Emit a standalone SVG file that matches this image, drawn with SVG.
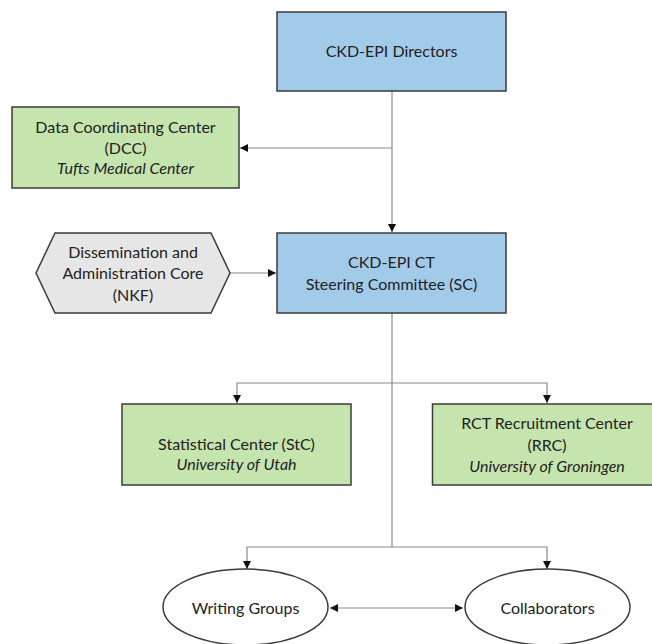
<svg xmlns="http://www.w3.org/2000/svg" width="652" height="644" viewBox="0 0 652 644">
<defs>
<style>
.box{stroke:#3b3b3b;stroke-width:1.5}
.blue{fill:#a2cbea}
.green{fill:#c6e5ae}
.gray{fill:#e7e6e6}
.white{fill:#ffffff}
.t{font-family:Lato,"Liberation Sans",sans-serif;font-size:16px;fill:#222222;text-anchor:middle}
.i{font-style:italic}
.c{fill:none;stroke:#8a8a8a;stroke-width:1.2}
</style>
<marker id="ah" markerUnits="userSpaceOnUse" markerWidth="9" markerHeight="8" refX="8" refY="4" orient="auto-start-reverse">
<path d="M0,0 L8,4 L0,8 Z" fill="#111"/>
</marker>
</defs>
<g id="connectors">
<path class="c" d="M392,91 V232" marker-end="url(#ah)"/>
<path class="c" d="M392,148 H240" marker-end="url(#ah)"/>
<path class="c" d="M230,273 H276" marker-end="url(#ah)"/>
<path class="c" d="M392,313 V547"/>
<path class="c" d="M392,383 H237 V403" marker-end="url(#ah)"/>
<path class="c" d="M392,383 H547 V403" marker-end="url(#ah)"/>
<path class="c" d="M392,547 H247 V569" marker-end="url(#ah)"/>
<path class="c" d="M392,547 H547 V569" marker-end="url(#ah)"/>
<path class="c" d="M330,608 H463" marker-start="url(#ah)" marker-end="url(#ah)"/>
</g>
<g id="directors">
<rect class="box blue" x="277" y="12" width="229" height="79"/>
<text class="t" x="391.5" y="57">CKD-EPI Directors</text>
</g>
<g id="dcc">
<rect class="box green" x="12" y="107" width="227" height="81"/>
<text class="t" x="125.5" y="133">Data Coordinating Center</text>
<text class="t" x="125.5" y="154">(DCC)</text>
<text class="t i" x="125.5" y="174">Tufts Medical Center</text>
</g>
<g id="dac">
<polygon class="box gray" points="36,273 55,233 211,233 230,273 211,313 55,313"/>
<text class="t" x="133" y="258">Dissemination and</text>
<text class="t" x="133" y="279">Administration Core</text>
<text class="t" x="133" y="301">(NKF)</text>
</g>
<g id="sc">
<rect class="box blue" x="277" y="233" width="229" height="80"/>
<text class="t" x="391.5" y="268">CKD-EPI CT</text>
<text class="t" x="391.5" y="290">Steering Committee (SC)</text>
</g>
<g id="stc">
<rect class="box green" x="122" y="404" width="229" height="81"/>
<text class="t" x="236.5" y="450">Statistical Center (StC)</text>
<text class="t i" x="236.5" y="470">University of Utah</text>
</g>
<g id="rrc">
<rect class="box green" x="432.5" y="404" width="229" height="81"/>
<text class="t" x="547" y="429">RCT Recruitment Center</text>
<text class="t" x="547" y="451">(RRC)</text>
<text class="t i" x="547" y="472">University of Groningen</text>
</g>
<g id="writing">
<ellipse class="box white" cx="245.5" cy="607" rx="82.5" ry="38"/>
<text class="t" x="245.5" y="614">Writing Groups</text>
</g>
<g id="collab">
<ellipse class="box white" cx="547.5" cy="607" rx="82.5" ry="38"/>
<text class="t" x="547.5" y="614">Collaborators</text>
</g>
</svg>
